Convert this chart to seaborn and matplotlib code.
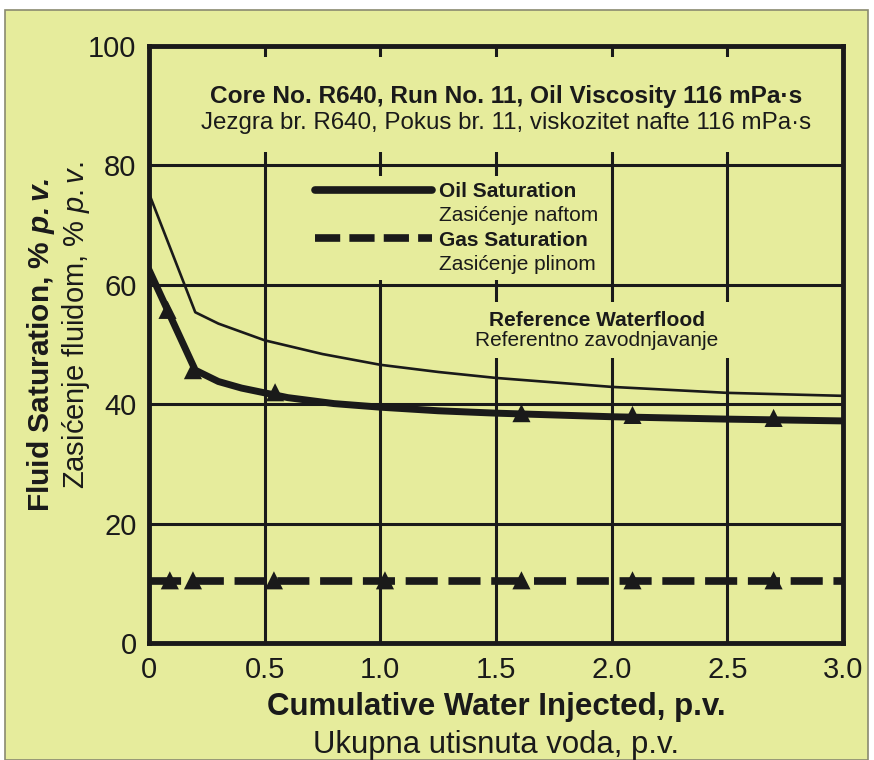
import seaborn as sns
import matplotlib.pyplot as plt
import pandas as pd
from matplotlib.lines import Line2D
from matplotlib.patches import Rectangle

# data
oil_x = [0, 0.2, 0.3, 0.4, 0.5, 0.6, 0.8, 1.0, 1.25, 1.5, 2.0, 2.5, 3.0]
oil_y = [62.5, 45.7, 43.8, 42.7, 41.9, 41.1, 40.1, 39.5, 38.9, 38.5, 37.9, 37.5, 37.2]
oil_mark_x = [0.08, 0.19, 0.545, 1.61, 2.09, 2.70]
oil_mark_y = [55.8, 45.7, 42.0, 38.5, 38.2, 37.7]

ref_x = [0, 0.2, 0.3, 0.5, 0.75, 1.0, 1.25, 1.5, 2.0, 2.5, 3.0]
ref_y = [75.3, 55.4, 53.5, 50.7, 48.4, 46.6, 45.4, 44.4, 42.9, 41.9, 41.4]

gas_x = [0, 3.0]
gas_y = [10.4, 10.4]
gas_mark_x = [0.09, 0.19, 0.54, 1.02, 1.61, 2.09, 2.70]
gas_mark_y = [10.5, 10.5, 10.5, 10.5, 10.5, 10.5, 10.5]

x_ticks = [0, 0.5, 1.0, 1.5, 2.0, 2.5, 3.0]
x_labels = ["0", "0.5", "1.0", "1.5", "2.0", "2.5", "3.0"]
y_ticks = [0, 20, 40, 60, 80, 100]

bg = "#e6ec9c"
ink = "#1a1a1a"

sns.set_style("white")
plt.rcParams["font.family"] = ["Liberation Sans", "DejaVu Sans"]
plt.rcParams["mathtext.fontset"] = "custom"
plt.rcParams["mathtext.it"] = "Liberation Sans:italic"
plt.rcParams["mathtext.bfit"] = "Liberation Sans:italic:bold"
plt.rcParams["mathtext.rm"] = "Liberation Sans"

fig = plt.figure(figsize=(8.74, 7.6), dpi=100, facecolor="white")
fig.patches.append(Rectangle((5 / 874, 0), 863 / 874, 750 / 760, transform=fig.transFigure,
                             facecolor=bg, edgecolor="#8a8a70", lw=1.2, zorder=-10))
ax = fig.add_axes([149 / 874, 117 / 760, 694 / 874, 597 / 760])
ax.set_facecolor(bg)

oil = pd.DataFrame({"x": oil_x, "y": oil_y})
ref = pd.DataFrame({"x": ref_x, "y": ref_y})
gas = pd.DataFrame({"x": gas_x, "y": gas_y})

sns.lineplot(data=ref, x="x", y="y", ax=ax, color=ink, lw=1.9, zorder=4)
sns.lineplot(data=oil, x="x", y="y", ax=ax, color=ink, lw=5, zorder=5)
sns.lineplot(data=gas, x="x", y="y", ax=ax, color=ink, lw=5.5, zorder=5,
             linestyle=(0, (4.2, 1.4)))
sns.scatterplot(x=oil_mark_x, y=oil_mark_y, ax=ax, marker="^", s=170, color=ink,
                edgecolor="none", zorder=6)
sns.scatterplot(x=gas_mark_x, y=gas_mark_y, ax=ax, marker="^", s=170, color=ink,
                edgecolor="none", zorder=6)

ax.set_xlabel("")
ax.set_ylabel("")
ax.set_xlim(0, 3.0)
ax.set_ylim(0, 100)
ax.set_xticks(x_ticks)
ax.set_xticklabels(x_labels)
ax.set_yticks(y_ticks)
ax.tick_params(length=0, labelsize=21, colors=ink, pad=9)
ax.grid(True, color=ink, lw=2.2, zorder=1)
ax.set_axisbelow(True)
for s in ax.spines.values():
    s.set_color(ink)
    s.set_linewidth(3.5)
    s.set_zorder(7)

# title block covering the grid
ax.add_patch(Rectangle((0.004, (643 - 152) / 597), 0.992, (152 - 57) / 597, transform=ax.transAxes,
                       facecolor=bg, edgecolor="none", zorder=2))
ax.text(0.515, (643 - 97) / 597, "Core No. R640, Run No. 11, Oil Viscosity 116 mPa·s",
        transform=ax.transAxes, ha="center", va="center", fontsize=17.6, fontweight="bold",
        color=ink, zorder=3)
ax.text(0.515, (643 - 123) / 597, "Jezgra br. R640, Pokus br. 11, viskozitet nafte 116 mPa·s",
        transform=ax.transAxes, ha="center", va="center", fontsize=17.4, color=ink, zorder=3)

# reference waterflood label
ax.add_patch(Rectangle(((470 - 149) / 694, (643 - 358) / 597), 270 / 694, 56 / 597,
                       transform=ax.transAxes, facecolor=bg, edgecolor="none", zorder=2))
ax.text((597 - 149) / 694, (643 - 320) / 597, "Reference Waterflood", transform=ax.transAxes,
        ha="center", va="center", fontsize=15, fontweight="bold", color=ink, zorder=3)
ax.text((597 - 149) / 694, (643 - 341) / 597, "Referentno zavodnjavanje", transform=ax.transAxes,
        ha="center", va="center", fontsize=15, color=ink, zorder=3)

# legend
handles = [Line2D([], [], color=ink, lw=5.5),
           Line2D([], [], color="none"),
           Line2D([], [], color=ink, lw=5.5, linestyle=(0, (3.3, 1.2))),
           Line2D([], [], color="none")]
labels = ["Oil Saturation", "Zasićenje naftom", "Gas Saturation", "Zasićenje plinom"]
leg = ax.legend(handles, labels, loc="upper left",
                bbox_to_anchor=((309 - 149) / 694, (643 - 176) / 597),
                frameon=True, facecolor=bg, edgecolor="none", framealpha=1, fancybox=False,
                fontsize=15, handlelength=5.6, handletextpad=0.35, labelspacing=0.25,
                borderpad=0.3, borderaxespad=0)
leg.set_zorder(3)
for i, t in enumerate(leg.get_texts()):
    t.set_color(ink)
    if i % 2 == 0:
        t.set_fontweight("bold")

# axis labels
ax.text(0.5, -0.108, "Cumulative Water Injected, p.v.", transform=ax.transAxes, ha="center",
        va="center", fontsize=22.5, fontweight="bold", color=ink)
ax.text(0.5, -0.171, "Ukupna utisnuta voda, p.v.", transform=ax.transAxes, ha="center",
        va="center", fontsize=22.4, color=ink)
ax.text((41 - 149) / 694, (643 - 345) / 597, r"Fluid Saturation, % $\mathbfit{p.v.}$",
        transform=ax.transAxes, rotation=90, ha="center", va="center", fontsize=21.5,
        fontweight="bold", color=ink)
ax.text((76 - 149) / 694, (643 - 325) / 597, r"Zasićenje fluidom, % $\mathit{p.v.}$",
        transform=ax.transAxes, rotation=90, ha="center", va="center", fontsize=21,
        color=ink)

fig.savefig("out.png", dpi=100, facecolor="white")
